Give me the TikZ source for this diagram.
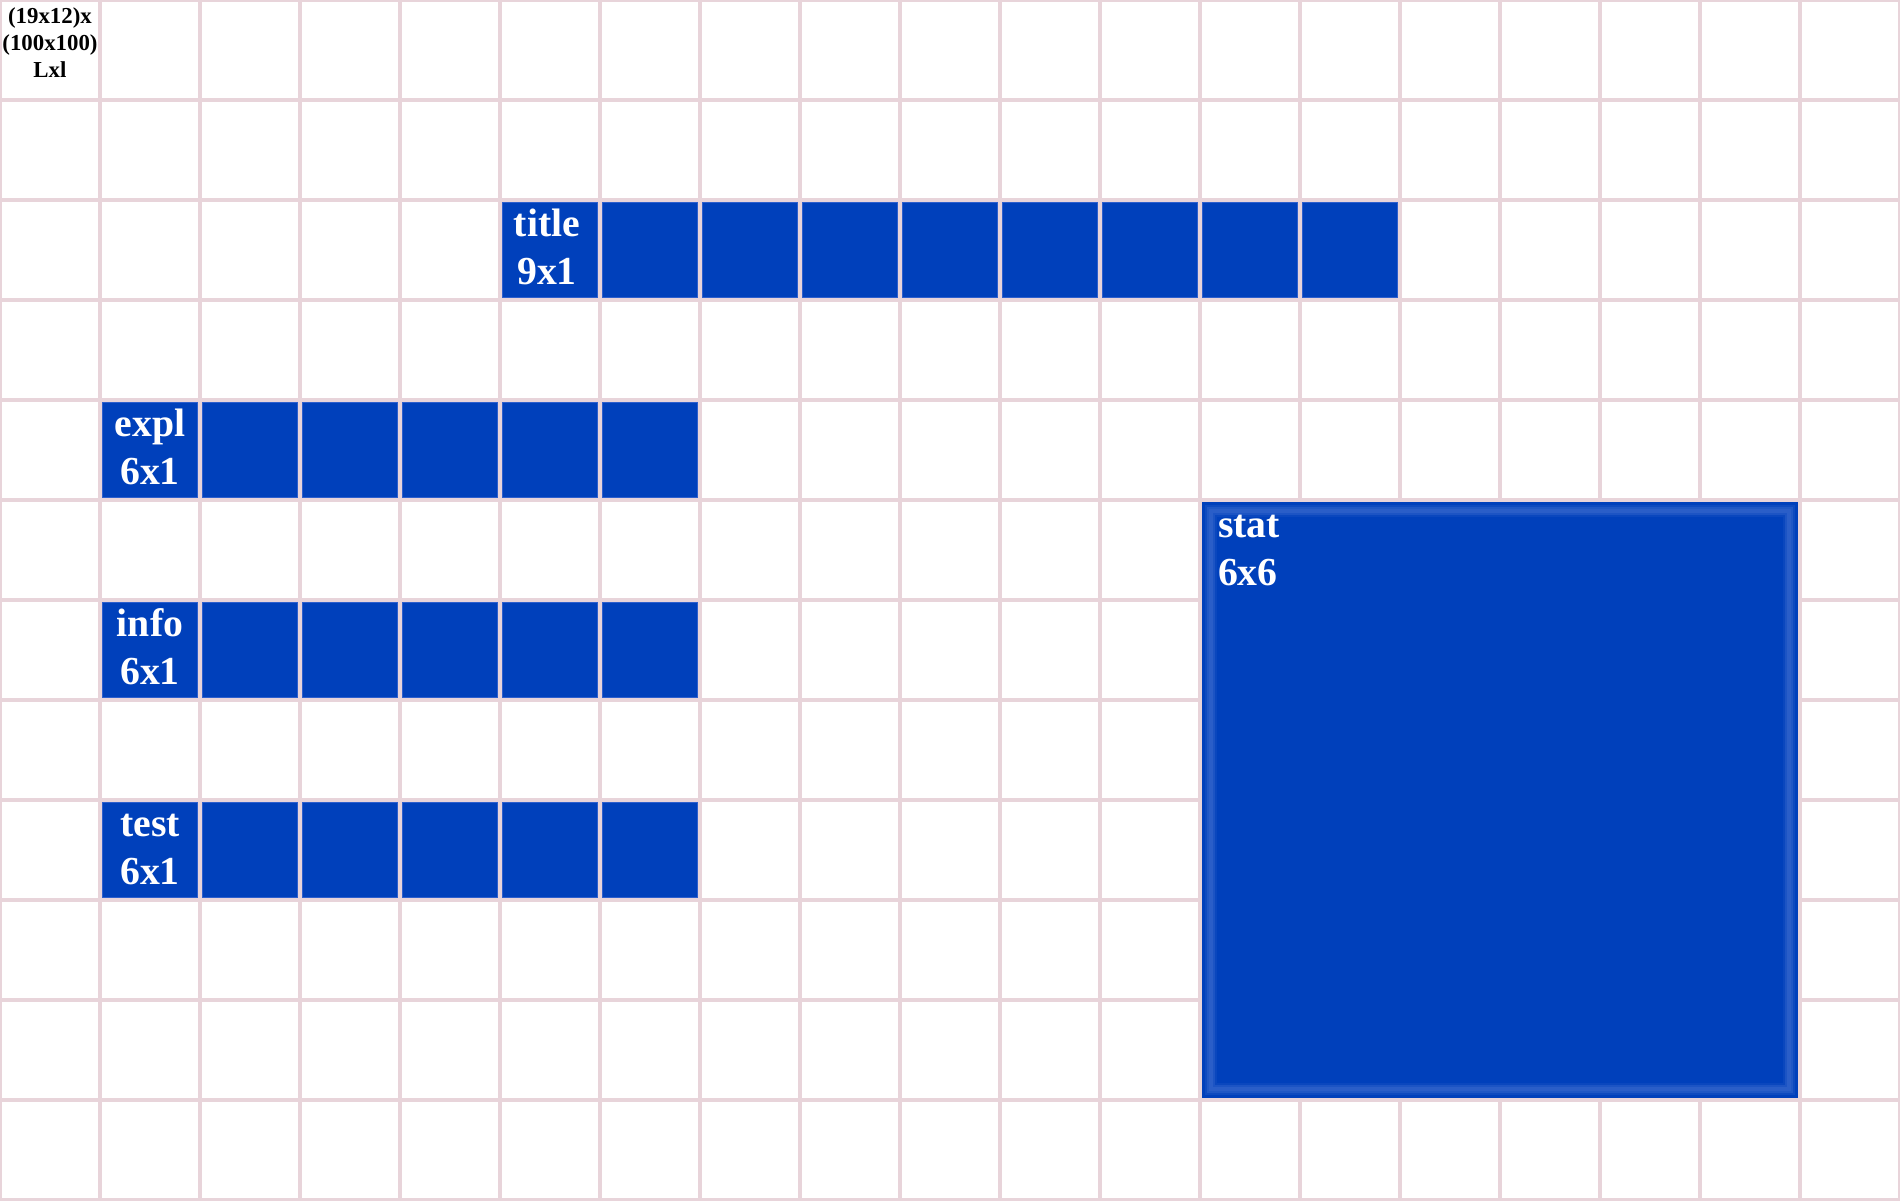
\documentclass[tikz,border=0pt]{standalone}
\usepackage{fontspec}
\setmainfont{Liberation Serif}
\usetikzlibrary{positioning}
\definecolor{gridpink}{RGB}{232,212,218}
\definecolor{cellblue}{RGB}{0,64,187}
\definecolor{celledge}{RGB}{45,95,205}
\definecolor{glowblue}{RGB}{70,115,210}

\begin{document}
\begin{tikzpicture}[x=1cm,y=-1cm]
  \tikzstyle{cell}=[draw=celledge,line width=0.01cm,fill=cellblue,minimum size=0.955cm,inner sep=0pt]
  \tikzstyle{lbl}=[text=white,font=\fontsize{11.3}{13.7}\selectfont\bfseries,align=center,inner sep=0pt,anchor=north]

  \useasboundingbox (0,0) rectangle (19,12);
  \fill[white] (0,0) rectangle (19,12);
  \draw[gridpink,line width=0.04cm] (0,0) grid (19,12);

  \node[font=\fontsize{6.5}{7.7}\selectfont\bfseries,align=center,inner sep=0pt,anchor=north]
    (size_lbl) at (0.5,0.07) {(19x12)x\\(100x100)\\Lxl};

  % one row of cells per area
  \foreach \c in {5,...,13} \node[cell] (title_\c) at (\c+0.5,2.5) {};
  \foreach \c in {1,...,6} {
    \node[cell] (expl_\c) at (\c+0.5,4.5) {};
    \node[cell] (info_\c) at (\c+0.5,6.5) {};
    \node[cell] (test_\c) at (\c+0.5,8.5) {};
  }

  \node[lbl] (title_lbl) at ([shift={(-0.03,0.06)}]title_5.north) {\vphantom{l}title\\9x1};
  \node[lbl] (expl_lbl)  at ([yshift=-0.06cm]expl_1.north)  {\vphantom{l}expl\\6x1};
  \node[lbl] (info_lbl)  at ([yshift=-0.06cm]info_1.north)  {\vphantom{l}info\\6x1};
  \node[lbl] (test_lbl)  at ([yshift=-0.06cm]test_1.north)  {\vphantom{l}test\\6x1};

  % the big block
  \node[fill=cellblue,minimum size=5.96cm,inner sep=0pt] (stat) at (15,8) {};
  \foreach \d/\o in {0.05/0.2,0.07/0.45,0.09/0.6,0.11/0.6,0.13/0.4,0.15/0.15}
    \draw[glowblue,opacity=\o,line width=0.02cm]
      ([shift={(\d,\d)}]stat.north west) rectangle ([shift={(-\d,-\d)}]stat.south east);
  \node[lbl,anchor=north west,align=left] (stat_lbl) at ([shift={(0.16,0.08)}]stat.north west) {\vphantom{l}stat\\6x6};
\end{tikzpicture}
\end{document}
